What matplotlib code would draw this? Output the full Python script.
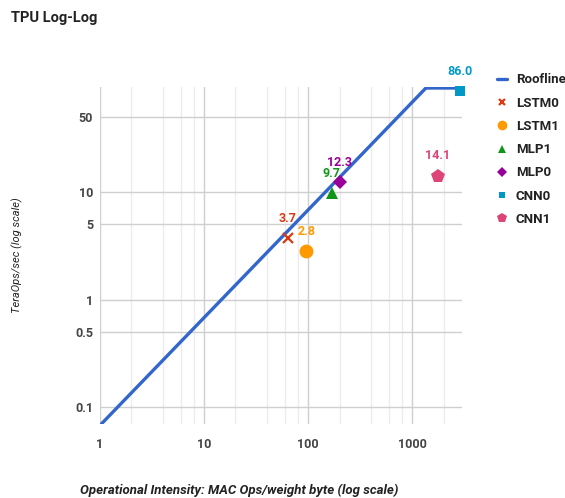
import matplotlib
matplotlib.use("Agg")
import matplotlib.pyplot as plt
from matplotlib.ticker import FixedLocator, NullFormatter

plt.rcParams['font.family'] = ['Roboto', 'DejaVu Sans']

# roofline of the TPU (peak 92 TeraOps/s, ridge near 1350 ops/byte)
roof_x = [1, 1350, 2888]
roof_y = [0.068, 92, 92]

# measured applications
apps = ['LSTM0', 'LSTM1', 'MLP1', 'MLP0', 'CNN0', 'CNN1']
app_x = [64, 96, 168, 200, 2888, 1750]
app_y = [3.7, 2.8, 9.7, 12.3, 86.0, 14.1]
app_labels = ['3.7', '2.8', '9.7', '12.3', '86.0', '14.1']

colors = ['#dc3912', '#ff9900', '#109618', '#990099', '#0099c6', '#dd4477']
markers = ['x', 'o', '^', 'D', 's', 'p']
msizes = [6.5, 10, 9, 7.5, 6.5, 10]

x_ticks = [1, 10, 100, 1000]
x_minor = [2, 4, 6, 8, 20, 40, 60, 80, 200, 400, 600, 800, 2000]
y_ticks = [0.1, 0.5, 1, 5, 10, 50]
y_ticklabels = ['0.1', '0.5', '1', '5', '10', '50']

fig = plt.figure(figsize=(5.65, 4.98), dpi=100)
ax = fig.add_axes([100/565, 1 - 424/498, 362/565, 337/498])

ax.set_xscale('log')
ax.set_yscale('log')
ax.set_xlim(1, 3000)
ax.set_ylim(0.07, 94)

ax.xaxis.set_major_locator(FixedLocator(x_ticks))
ax.xaxis.set_minor_locator(FixedLocator(x_minor))
ax.xaxis.set_minor_formatter(NullFormatter())
ax.set_xticklabels([str(v) for v in x_ticks])
ax.yaxis.set_major_locator(FixedLocator(y_ticks))
ax.yaxis.set_minor_locator(FixedLocator([]))
ax.set_yticklabels(y_ticklabels)

ax.grid(True, which='major', color='#cfcfcf', linewidth=1)
ax.grid(True, which='minor', axis='x', color='#ececec', linewidth=1)
ax.set_axisbelow(True)
for s in ax.spines.values():
    s.set_visible(False)
ax.tick_params(which='both', length=0)
ax.tick_params(axis='x', pad=10, labelsize=9, labelcolor='#444444')
ax.tick_params(axis='y', pad=5, labelsize=9, labelcolor='#444444')
for lab in ax.get_xticklabels() + ax.get_yticklabels():
    lab.set_fontweight('bold')

handles = []
h, = ax.plot(roof_x, roof_y, color='#3366cc', linewidth=2.4,
             solid_capstyle='round', label='Roofline', zorder=3)
handles.append(h)

for name, x, y, txt, c, m, ms in zip(apps, app_x, app_y, app_labels,
                                     colors, markers, msizes):
    mew = 1.6 if m == 'x' else 0
    h, = ax.plot([x], [y], linestyle='none', marker=m, markersize=ms,
                 color=c, markeredgewidth=mew, label=name, zorder=4,
                 clip_on=False)
    handles.append(h)
    ax.annotate(txt, (x, y), xytext=(0, 14.5), textcoords='offset points',
                ha='center', va='center', color=c, fontsize=9,
                fontweight='bold', annotation_clip=False)

fig.legend(handles=handles, loc='upper left',
           bbox_to_anchor=(492/565, 1 - 68/498), frameon=False,
           handlelength=0.75, handletextpad=0.65,
           labelspacing=0.78, markerscale=0.7, borderaxespad=0,
           labelcolor='#222222', prop={'weight': 'bold', 'size': 9.5})

fig.text(11/565, 1 - 18/498, 'TPU Log-Log', fontsize=10.5,
         fontweight='bold', va='center', ha='left', color='#222222')
fig.text(17/565, 1 - 255/498, 'TeraOps/sec (log scale)', rotation=90,
         fontsize=8, style='italic', va='center', ha='center',
         color='#222222')
fig.text(80/565, 1 - 490/498,
         'Operational Intensity: MAC Ops/weight byte (log scale)',
         fontsize=9.5, style='italic', fontweight='bold', va='center',
         ha='left', color='#222222')

fig.savefig('out.png', dpi=100)
